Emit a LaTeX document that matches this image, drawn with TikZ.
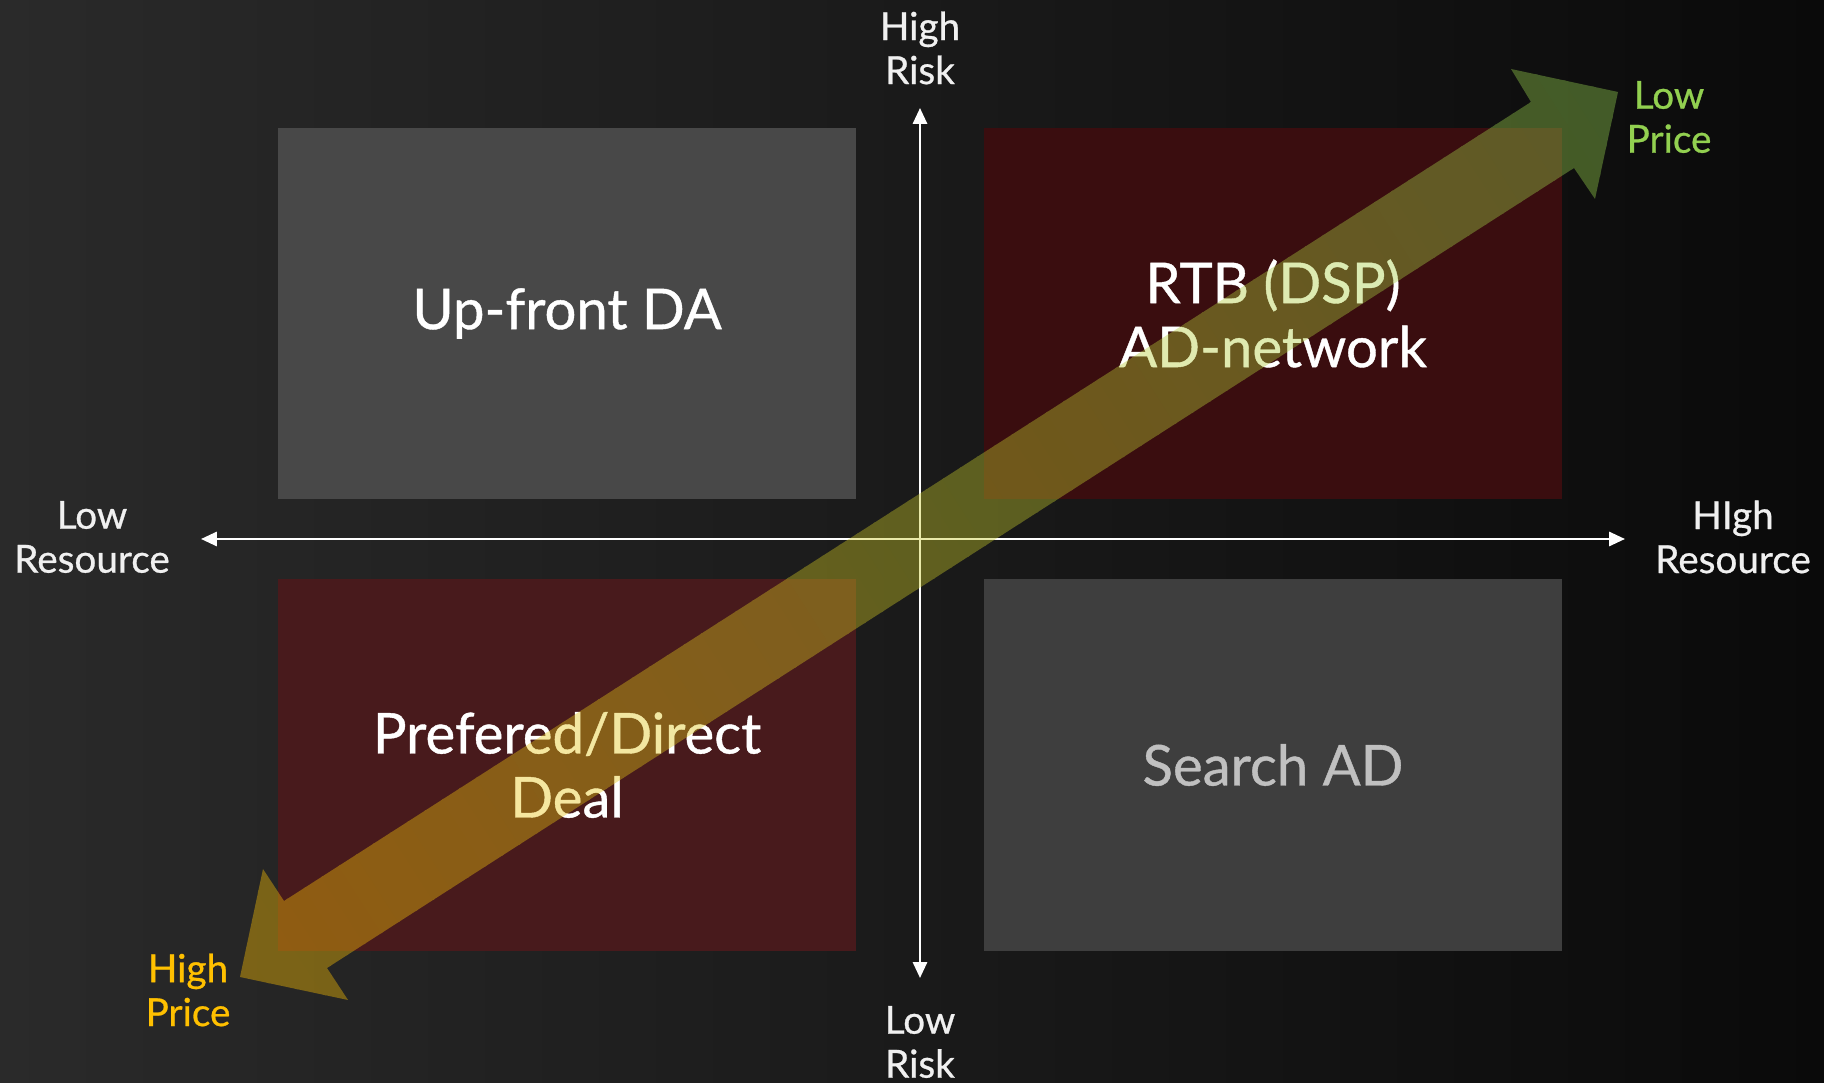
\documentclass[tikz,border=0pt]{standalone}
\usepackage{fontspec}
\setmainfont{Lato}[UprightFeatures={FakeBold=0.7}]
\usetikzlibrary{arrows.meta}

\definecolor{bgleft}{RGB}{42,42,42}
\definecolor{bgright}{RGB}{10,10,10}
\definecolor{boxgray}{RGB}{72,72,72}
\definecolor{boxgraydk}{RGB}{62,62,62}
\definecolor{boxred}{RGB}{58,13,15}
\definecolor{boxredlt}{RGB}{72,26,28}
\definecolor{pricegold}{RGB}{255,192,0}
\definecolor{pricegreen}{RGB}{146,208,80}
\definecolor{labelwhite}{RGB}{240,240,240}

\begin{document}
\begin{tikzpicture}[
  x=0.01cm, y=-0.01cm,
  quad/.style={minimum width=5.78cm, minimum height=3.71cm, inner sep=0pt,
    align=center, font=\fontsize{16}{18.2}\selectfont, text=white},
  axislabel/.style={align=center, inner sep=0pt,
    font=\fontsize{11}{12.5}\selectfont, text=labelwhite},
  axis/.style={{Triangle[length=4.5pt,width=4pt]}-{Triangle[length=4.5pt,width=4pt]},
    draw=white, line width=0.7pt}
]
\useasboundingbox (0,0) rectangle (1824,1083);
\fill[left color=bgleft, right color=bgright] (0,0) rectangle (1824,1083);

% quadrants
\node[quad, fill=boxgray] (upfront) at (567,313.5) {Up-front DA};
\node[quad, fill=boxred] (rtb) at (1273,313.5) {RTB (DSP)\\AD-network};
\node[quad, fill=boxredlt] (direct) at (567,765) {Prefered/Direct\\Deal};
\node[quad, fill=boxgraydk, text={rgb,255:red,192;green,192;blue,192}]
  (search) at (1273,765) {Search AD};

% axes
\coordinate (riskhi) at (920,108);
\coordinate (risklo) at (920,978);
\coordinate (reslo) at (201,539);
\coordinate (reshi) at (1625,539);
\draw[axis] (risklo) -- (riskhi);
\draw[axis] (reslo) -- (reshi);

\node[axislabel] (highrisk) at (920,48) {High\\Risk};
\node[axislabel] (lowrisk) at (920,1042) {Low\\Risk};
\node[axislabel] (lowres) at (92,537) {Low\\Resource};
\node[axislabel] (highres) at (1733,537) {HIgh\\Resource};
\node[axislabel, text=pricegreen] (lowprice) at (1669,117) {Low\\Price};
\node[axislabel, text=pricegold] (highprice) at (188,990) {High\\Price};

% price arrow, gold to green in strips
\begin{scope}[transparency group, opacity=0.4]
  \clip (240,977) -- (263,869) -- (284,901) -- (1531,102) -- (1511,69)
    -- (1618,92) -- (1595,199) -- (1574,168) -- (327,968) -- (348,1000) -- cycle;
  \begin{scope}[shift={(240,977)}, rotate=32.7]
    \foreach \i in {0,...,79} {
      \pgfmathsetmacro{\mix}{100*(\i+0.5)/80}
      \fill[pricegreen!\mix!pricegold] (\i*20.5-1,-130) rectangle (\i*20.5+21.5,130);
    }
  \end{scope}
\end{scope}
\end{tikzpicture}
\end{document}
